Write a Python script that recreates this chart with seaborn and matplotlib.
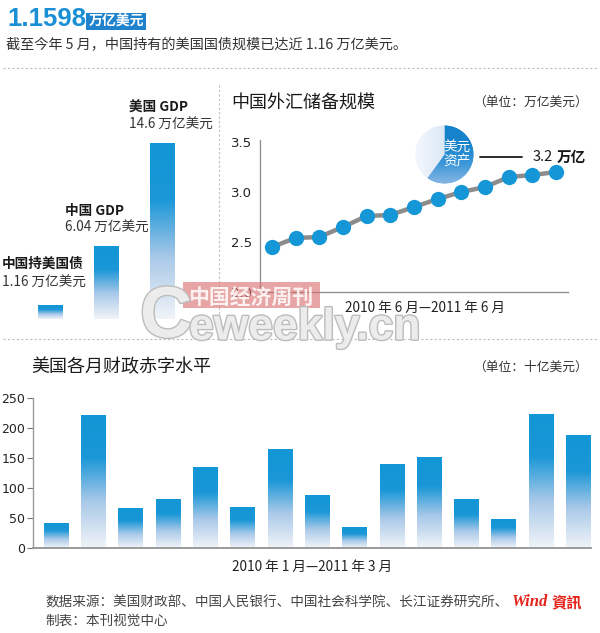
import numpy as np
import pandas as pd
import matplotlib
matplotlib.use("Agg")
import matplotlib.pyplot as plt
import seaborn as sns
from matplotlib.colors import LinearSegmentedColormap
from matplotlib.lines import Line2D
from matplotlib.patches import Rectangle
import matplotlib.patheffects as pe

# ---------------- data ----------------
compare_labels = ["中国持美国债", "中国 GDP", "美国 GDP"]
compare_values = [1.16, 6.04, 14.6]
compare_value_text = ["1.16 万亿美元", "6.04 万亿美元", "14.6 万亿美元"]

fx_months = ["2010-06", "2010-07", "2010-08", "2010-09", "2010-10", "2010-11", "2010-12",
             "2011-01", "2011-02", "2011-03", "2011-04", "2011-05", "2011-06"]
fx_reserves = [2.45, 2.54, 2.55, 2.65, 2.76, 2.77, 2.85, 2.93, 3.00, 3.05, 3.15, 3.17, 3.20]
fx_ticks = [2.0, 2.5, 3.0, 3.5]

deficit_months = ["2010-01", "2010-02", "2010-03", "2010-04", "2010-05", "2010-06", "2010-07",
                  "2010-08", "2010-09", "2010-10", "2010-11", "2010-12", "2011-01", "2011-02",
                  "2011-03"]
deficit_values = [42, 221, 66, 82, 135, 68, 165, 89, 35, 140, 151, 81, 49, 224, 189]
deficit_ticks = [0, 50, 100, 150, 200, 250]

usd_share = [0.6, 0.4]
usd_label = "美元\n资产"

# ---------------- style ----------------
sns.set_theme(style="white")
CJK = ["Noto Sans CJK SC", "DejaVu Sans"]
plt.rcParams["font.family"] = CJK
BLUE = "#1596d6"
GRAY = "#8c8c8c"
TXT = "#2a2a2a"

W, H = 600, 633
fig = plt.figure(figsize=(W / 100, H / 100), dpi=100)
fig.patch.set_facecolor("white")


def px_axes(l, t, r, b, **kw):
    return fig.add_axes([l / W, 1 - b / H, (r - l) / W, (b - t) / H], **kw)


def ftext(x, y, s, **kw):
    kw.setdefault("va", "center")
    kw.setdefault("color", TXT)
    return fig.text(x / W, 1 - y / H, s, **kw)


def hline(x1, x2, y, **kw):
    fig.add_artist(Line2D([x1 / W, x2 / W], [1 - y / H, 1 - y / H], transform=fig.transFigure, **kw))


def vline(x, y1, y2, **kw):
    fig.add_artist(Line2D([x / W, x / W], [1 - y1 / H, 1 - y2 / H], transform=fig.transFigure, **kw))


cmap_bar = LinearSegmentedColormap.from_list(
    "bar", [(0, "#f1f4f8"), (0.35, "#a9c9e9"), (0.68, "#1a97d7"), (1, "#1296d5")])


def gradient_fill(ax, patch, cmap):
    x0, y0 = patch.get_x(), patch.get_y()
    w, h = patch.get_width(), patch.get_height()
    grad = np.linspace(0, 1, 256).reshape(-1, 1)
    im = ax.imshow(grad, cmap=cmap, origin="lower", extent=[x0, x0 + w, y0, y0 + h],
                   aspect="auto", zorder=patch.get_zorder() + 0.1, interpolation="bilinear")
    im.set_clip_path(patch)
    patch.set_edgecolor("none")


# ---------------- header ----------------
ftext(7, 19, "1.1598", fontsize=18.5, fontweight="bold", color="#1a8fd6",
      family=["Liberation Sans", "DejaVu Sans"])
fig.add_artist(Rectangle((86 / W, 1 - 30 / H), 60 / W, 17 / H, transform=fig.transFigure,
                         facecolor="#1f82cc", edgecolor="none"))
ftext(116, 22, "万亿美元", fontsize=10, fontweight="bold", color="white", ha="center")
ftext(6, 45, "截至今年 5 月，中国持有的美国国债规模已达近 1.16 万亿美元。", fontsize=10.2, color="#333333")
hline(3, 597, 68, color="#bdbdbd", lw=0.8, ls=(0, (2, 2)))

# ---------------- left comparison bars ----------------
axL = px_axes(0, 80, 218, 319)
sns.barplot(x=compare_labels, y=compare_values, ax=axL, width=0.43, color=BLUE, saturation=1)
axL.set_xlim(-0.9, 2.99)
axL.set_ylim(0, 19.83)
axL.axis("off")
for p in axL.patches:
    gradient_fill(axL, p, cmap_bar)
axL.set_xlim(-0.9, 2.99)
axL.set_ylim(0, 19.83)

name_pos = [(2, 264), (65, 211), (129, 108)]
val_pos = [(2, 283), (65, 228), (129, 125)]
for lab, vt, (nx, ny), (vx, vy) in zip(compare_labels, compare_value_text, name_pos, val_pos):
    ftext(nx, ny, lab, fontsize=9.8, fontweight="bold", color="#1a1a1a")
    ftext(vx, vy, vt, fontsize=9.8, color="#333333")

vline(219, 85, 335, color="#bdbdbd", lw=0.8, ls=(0, (2, 2)))

# ---------------- FX reserves line chart ----------------
ftext(231, 103, "中国外汇储备规模", fontsize=13, color="#1a1a1a")
ftext(588, 103, "（单位：万亿美元）", fontsize=9.2, color="#333333", ha="right")

axC = px_axes(260, 140, 568, 292)
pos = np.arange(len(fx_reserves)) + 0.5
sns.lineplot(x=pos, y=fx_reserves, ax=axC, color=GRAY, lw=3.2, marker="o", markersize=11,
             markerfacecolor=BLUE, markeredgewidth=0)
axC.set_xlim(0, 13)
axC.set_ylim(2.0, 3.52)
axC.set_xticks(np.arange(14))
axC.set_xticklabels([])
axC.set_yticks(fx_ticks)
axC.set_yticklabels([f"{v:.1f}" for v in fx_ticks], family="DejaVu Sans")
axC.tick_params(axis="x", direction="in", length=4, color="#777777", width=0.8)
axC.tick_params(axis="y", direction="out", length=3, color="#777777", width=0.8,
                labelsize=9.5, labelcolor="#222222", pad=3)
for s in ["top", "right"]:
    axC.spines[s].set_visible(False)
for s in ["left", "bottom"]:
    axC.spines[s].set_color("#8a8a8a")
    axC.spines[s].set_linewidth(0.9)
ftext(425, 308, "2010 年 6 月—2011 年 6 月", fontsize=9.8, color="#222222", ha="center")

# pie inset
axP = px_axes(415, 125, 474, 184)
wedges, _ = axP.pie(usd_share, startangle=90, counterclock=False, colors=["#1a86cf", "#dbe8f5"],
                    wedgeprops=dict(linewidth=0))
axP.set_aspect("equal")
g = np.linspace(0, 1, 256)
cm_blue = LinearSegmentedColormap.from_list("pb", ["#86b6e3", "#3c97d8", "#1683cc", "#1683cc"])
cm_light = LinearSegmentedColormap.from_list("pl", ["#f2f7fc", "#dbe8f5", "#bcd4ee"])
im1 = axP.imshow(g.reshape(-1, 1), cmap=cm_blue, origin="lower", extent=[-1, 1, -1, 1],
                 aspect="auto", zorder=3)
im1.set_clip_path(wedges[0])
im2 = axP.imshow(g.reshape(1, -1), cmap=cm_light, origin="lower", extent=[-1, 1, -1, 1],
                 aspect="auto", zorder=3)
im2.set_clip_path(wedges[1])
axP.set_xlim(-1.02, 1.02)
axP.set_ylim(-1.02, 1.02)
axP.axis("off")
ftext(457, 155, usd_label, fontsize=9.8, color="white", ha="center", linespacing=0.95, zorder=5)
hline(480, 522, 157, color="#1a1a1a", lw=1.3)
ftext(533, 157, "3.2", fontsize=10.5, color="#1a1a1a")
ftext(557, 157, "万亿", fontsize=10.5, fontweight="bold", color="#1a1a1a")

hline(3, 597, 339, color="#bdbdbd", lw=0.8, ls=(0, (2, 2)))

# ---------------- deficit bars ----------------
ftext(31, 367, "美国各月财政赤字水平", fontsize=13, color="#1a1a1a")
ftext(588, 367, "（单位：十亿美元）", fontsize=9.2, color="#333333", ha="right")

axB = px_axes(33, 398, 591, 548)
sns.barplot(x=deficit_months, y=deficit_values, ax=axB, width=0.66, color=BLUE, saturation=1)
for p in axB.patches:
    gradient_fill(axB, p, cmap_bar)
axB.set_xlim(-0.62, 14.34)
axB.set_ylim(0, 250)
axB.set_xticks([])
axB.set_yticks(deficit_ticks)
axB.set_yticklabels([str(v) for v in deficit_ticks], family="DejaVu Sans")
axB.set_xlabel("")
axB.set_ylabel("")
axB.tick_params(axis="y", direction="out", length=4, color="#777777", width=0.8,
                labelsize=9, labelcolor="#222222", pad=1.5, left=True)
for s in ["top", "right"]:
    axB.spines[s].set_visible(False)
for s in ["left", "bottom"]:
    axB.spines[s].set_color("#9a9a9a")
    axB.spines[s].set_linewidth(1.0)
axB.spines["bottom"].set_linewidth(1.4)
ftext(312, 567, "2010 年 1 月—2011 年 3 月", fontsize=9.8, color="#222222", ha="center")

# ---------------- footer ----------------
ftext(45, 602, "数据来源：美国财政部、中国人民银行、中国社会科学院、长江证券研究所、",
      fontsize=9.8, color="#444444")
ftext(512, 602, "Wind", fontsize=12, color="#e3231c", fontweight="bold", style="italic",
      family=["Liberation Serif", "DejaVu Serif"])
ftext(551, 602, "資訊", fontsize=11, color="#e3231c", fontweight="bold")
ftext(45, 621, "制表：本刊视觉中心", fontsize=9.8, color="#444444")

# ---------------- watermark ----------------
fig.add_artist(Rectangle((183 / W, 1 - 308 / H), 137 / W, 26 / H, transform=fig.transFigure,
                         facecolor="#d9706f", edgecolor="none", alpha=0.62, zorder=10))
ftext(251, 297, "中国经济周刊", fontsize=15, color="white", ha="center", fontweight="bold",
      alpha=0.85, zorder=11)
wm_fx = [pe.withStroke(linewidth=2, foreground="#bcbcbc")]
ftext(140, 318, "C", fontsize=52, fontweight="bold", color="#ececec", zorder=12,
      family=["Liberation Sans", "DejaVu Sans"], path_effects=wm_fx)
ftext(189, 328, "eweekly.cn", fontsize=32, fontweight="bold", color="#ececec", zorder=12,
      family=["Liberation Sans Narrow", "Liberation Sans", "DejaVu Sans"], path_effects=wm_fx)

fig.savefig("out.png", dpi=100, facecolor="white")
